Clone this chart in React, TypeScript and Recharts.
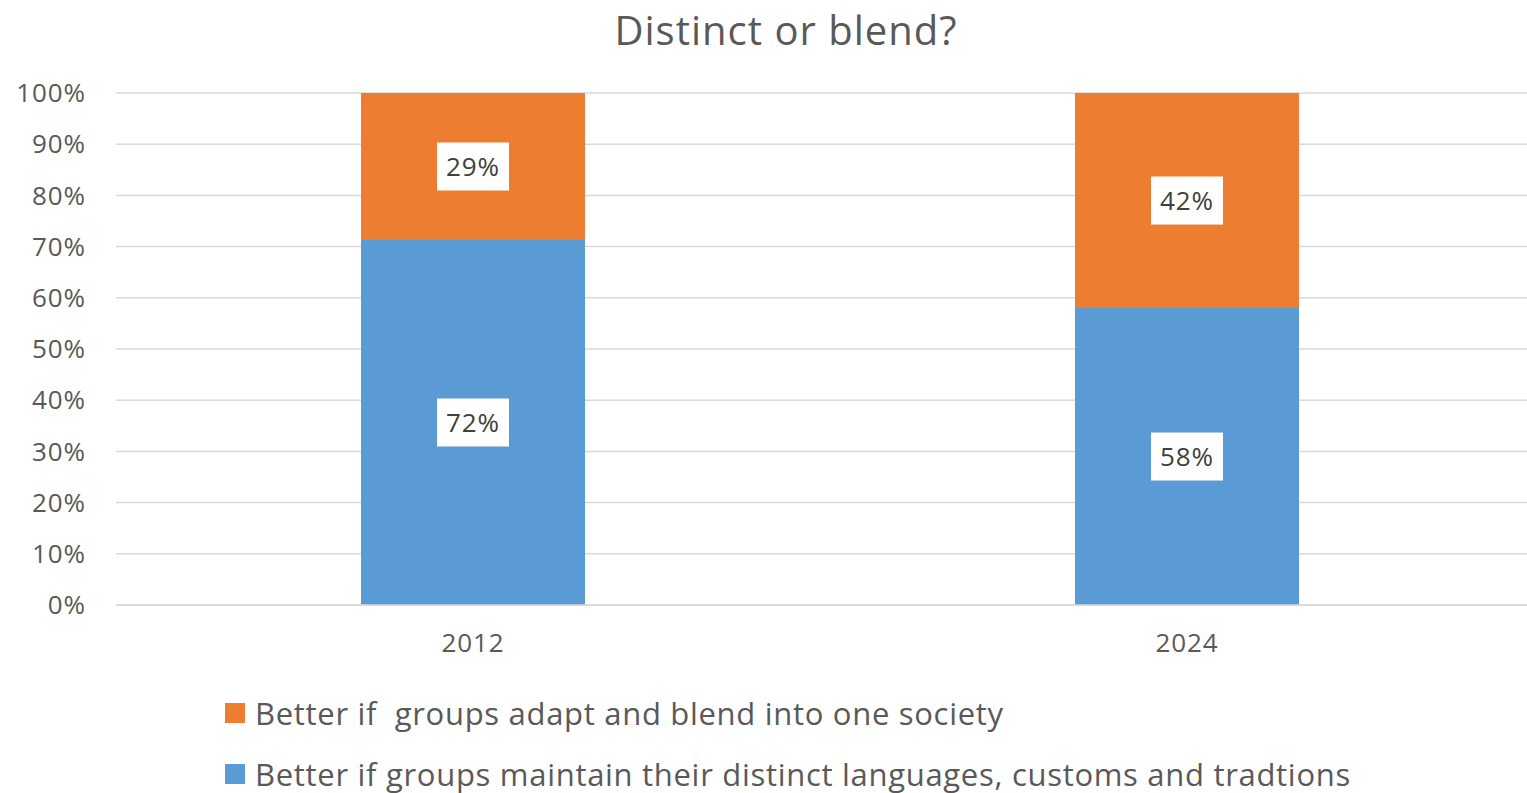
import { BarChart, Bar, XAxis, YAxis, CartesianGrid, LabelList } from "recharts"

const years = ["2012", "2024"]
const maintain = [72, 58]
const blend = [29, 42]
const yTicks = [0, 10, 20, 30, 40, 50, 60, 70, 80, 90, 100]
const seriesNames = {
    blend: "Better if  groups adapt and blend into one society",
    maintain: "Better if groups maintain their distinct languages, customs and tradtions",
}

const data = years.map((year, i) => ({ year, maintain: maintain[i], blend: blend[i] }))

const FONT = "'Open Sans', Lato, sans-serif"
const TEXT = "#595959"
const BLUE = "#5B9BD5"
const ORANGE = "#ED7D31"

function makeLabel(values: number[]) {
    return (props: any) => {
        const { x, y, width, height, index } = props
        const cx = x + width / 2
        const cy = y + height / 2
        const bw = 72
        const bh = 48
        return (
            <g>
                <rect x={cx - bw / 2} y={cy - bh / 2} width={bw} height={bh} fill="#ffffff" />
                <text x={cx} y={cy} dy={9} textAnchor="middle" fontSize={26} letterSpacing={1} fill="#404040" fontFamily={FONT}>
                    {values[index]}%
                </text>
            </g>
        )
    }
}

function LegendBox() {
    const rows = [
        { color: ORANGE, label: seriesNames.blend },
        { color: BLUE, label: seriesNames.maintain },
    ]
    return (
        <div style={{ position: "absolute", left: 225, top: 682, fontFamily: FONT, fontSize: 31, letterSpacing: 0.7, color: TEXT }}>
            {rows.map((r) => (
                <div key={r.label} style={{ display: "flex", alignItems: "center", height: 61, whiteSpace: "pre" }}>
                    <span style={{ width: 20, height: 20, background: r.color, marginRight: 10, display: "inline-block" }} />
                    <span>{r.label}</span>
                </div>
            ))}
        </div>
    )
}

export default function App() {
    return (
        <div style={{ position: "absolute", left: 0, top: 0, width: 1527, height: 793, overflow: "hidden", background: "#fff" }}>
            <div style={{ position: "absolute", left: 0, top: 6, width: 1572, textAlign: "center", fontFamily: FONT, fontSize: 40, letterSpacing: 1, color: TEXT, lineHeight: "48px" }}>
                Distinct or blend?
            </div>
            <BarChart
                width={1560}
                height={793}
                data={data}
                stackOffset="expand"
                margin={{ top: 93, right: 16, left: 0, bottom: 128 }}
            >
                <CartesianGrid vertical={false} stroke="#D9D9D9" strokeWidth={1.5} />
                <XAxis
                    dataKey="year"
                    height={60}
                    tickSize={0}
                    tickMargin={29}
                    axisLine={{ stroke: "#D9D9D9", strokeWidth: 1.5 }}
                    tick={{ fontSize: 26, fill: TEXT, fontFamily: FONT, letterSpacing: 0.9 }}
                />
                <YAxis
                    width={116}
                    domain={[0, 1]}
                    ticks={yTicks.map((t) => t / 100)}
                    tickFormatter={(v: number) => `${Math.round(v * 100)}%`}
                    axisLine={false}
                    tickLine={false}
                    tickSize={0}
                    tickMargin={30}
                    tick={{ fontSize: 26, fill: TEXT, fontFamily: FONT, letterSpacing: 0.9 }}
                />
                <Bar dataKey="maintain" stackId="a" fill={BLUE} barSize={224} isAnimationActive={false}>
                    <LabelList content={makeLabel(maintain)} />
                </Bar>
                <Bar dataKey="blend" stackId="a" fill={ORANGE} barSize={224} isAnimationActive={false}>
                    <LabelList content={makeLabel(blend)} />
                </Bar>
            </BarChart>
            <LegendBox />
        </div>
    )
}
